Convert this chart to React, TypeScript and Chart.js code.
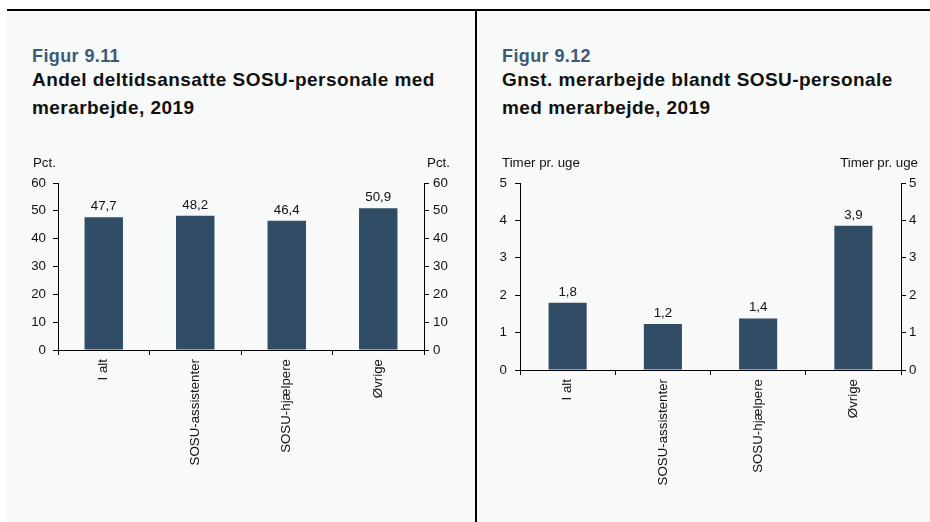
import React, { useEffect, useRef } from 'react';
import { Chart, registerables } from 'chart.js';

Chart.register(...registerables);

const FONT = '"Liberation Sans", Arial, Helvetica, sans-serif';

const categories = ['I alt', 'SOSU-assistenter', 'SOSU-hjælpere', 'Øvrige'];
const shareValues = [47.7, 48.2, 46.4, 50.9];
const hoursValues = [1.8, 1.23, 1.38, 3.86];
const shareTicks = [0, 10, 20, 30, 40, 50, 60];
const hoursTicks = [0, 1, 2, 3, 4, 5];

const fig1Number = 'Figur 9.11';
const fig1Title = ['Andel deltidsansatte SOSU-personale med', 'merarbejde, 2019'];
const fig1Unit = 'Pct.';
const fig2Number = 'Figur 9.12';
const fig2Title = ['Gnst. merarbejde blandt SOSU-personale', 'med merarbejde, 2019'];
const fig2Unit = 'Timer pr. uge';

const BAR_COLOR = '#304d65';
const TEXT = '#111111';
const FS = 13.3;

const barLabelsPlugin = {
  id: 'barLabels',
  afterDatasetsDraw(chart: any, _args: any, opts: any) {
    const ctx = chart.ctx;
    const meta = chart.getDatasetMeta(0);
    const data = chart.data.datasets[0].data as number[];
    ctx.save();
    ctx.font = `${FS}px ${FONT}`;
    ctx.fillStyle = TEXT;
    ctx.textBaseline = 'alphabetic';
    ctx.textAlign = 'center';
    meta.data.forEach((bar: any, i: number) => {
      ctx.fillText(data[i].toFixed(1).replace('.', ','), bar.x, bar.y - 7);
    });
    const area = chart.chartArea;
    ctx.textAlign = 'left';
    ctx.fillText(opts.unit, area.left + opts.unitLeft, opts.unitY);
    ctx.textAlign = 'right';
    ctx.fillText(opts.unit, area.right + opts.unitRight, opts.unitY);
    ctx.restore();
  },
};

type PanelProps = {
  values: number[];
  ticks: number[];
  unit: string;
  width: number;
  height: number;
  leftW: number;
  rightW: number;
  xH: number;
  top: number;
  barPct: number;
  unitLeft: number;
  unitRight: number;
  leftPad: number;
  rightPad: number;
};

function BarChart(p: PanelProps) {
  const ref = useRef<HTMLCanvasElement>(null);
  useEffect(() => {
    if (!ref.current) return;
    const tickFont = { family: FONT, size: FS };
    const axisCommon = (pos: 'left' | 'right', w: number, pad: number) => ({
      type: 'linear' as const,
      position: pos,
      min: p.ticks[0],
      max: p.ticks[p.ticks.length - 1],
      display: true,
      ticks: {
        stepSize: p.ticks[1] - p.ticks[0],
        color: TEXT,
        font: tickFont,
        padding: pad,
      },
      grid: { drawOnChartArea: false, drawTicks: true, tickLength: 5, color: '#000', lineWidth: 1 },
      border: { display: true, color: '#000', width: 1 },
      afterFit: (s: any) => {
        s.width = w;
      },
    });
    const chart = new Chart(ref.current, {
      type: 'bar',
      data: {
        labels: categories,
        datasets: [
          {
            data: p.values,
            backgroundColor: BAR_COLOR,
            borderWidth: 0,
            barPercentage: p.barPct,
            categoryPercentage: 1,
            yAxisID: 'y',
          },
        ],
      },
      options: {
        animation: false,
        responsive: false,
        maintainAspectRatio: false,
        layout: { padding: { top: p.top, left: 0, right: 0, bottom: 0 } },
        plugins: {
          legend: { display: false },
          tooltip: { enabled: false },
          barLabels: { unit: p.unit, unitLeft: p.unitLeft, unitRight: p.unitRight, unitY: 17 },
        } as any,
        scales: {
          x: {
            type: 'category',
            position: 'bottom',
            ticks: {
              color: TEXT,
              font: tickFont,
              minRotation: 90,
              maxRotation: 90,
              autoSkip: false,
              padding: 4,
            },
            grid: { drawOnChartArea: false, drawTicks: true, tickLength: 5, color: '#000', offset: true },
            border: { display: true, color: '#000', width: 1 },
            afterFit: (s: any) => {
              s.height = p.xH;
            },
          },
          y: axisCommon('left', p.leftW, p.leftPad),
          y2: axisCommon('right', p.rightW, p.rightPad),
        } as any,
      },
      plugins: [barLabelsPlugin],
    });
    return () => chart.destroy();
  }, []);
  return (
    <canvas
      ref={ref}
      width={p.width}
      height={p.height}
      style={{ width: p.width, height: p.height, display: 'block' }}
    />
  );
}

const figNumStyle: React.CSSProperties = {
  position: 'absolute',
  fontFamily: FONT,
  fontWeight: 'bold',
  fontSize: 18,
  lineHeight: '20px',
  color: '#3b5a75',
  whiteSpace: 'nowrap',
  letterSpacing: 0.4,
};
const titleStyle: React.CSSProperties = {
  position: 'absolute',
  fontFamily: FONT,
  fontWeight: 'bold',
  fontSize: 19,
  lineHeight: '28px',
  color: '#111',
  whiteSpace: 'nowrap',
  letterSpacing: 0.45,
};

export default function App() {
  return (
    <div
      style={{
        position: 'absolute',
        left: 0,
        top: 0,
        width: 930,
        height: 522,
        background: '#ffffff',
        overflow: 'hidden',
      }}
    >
      <div style={{ position: 'absolute', left: 7, top: 11, width: 469, height: 511, background: '#f8f9f9' }} />
      <div style={{ position: 'absolute', left: 477, top: 11, width: 453, height: 511, background: '#f8f9f9' }} />
      <div style={{ position: 'absolute', left: 7, top: 9, width: 923, height: 2, background: '#000' }} />
      <div style={{ position: 'absolute', left: 475, top: 9, width: 2, height: 513, background: '#000' }} />

      <div style={{ ...figNumStyle, left: 32, top: 46 }}>{fig1Number}</div>
      <div style={{ ...titleStyle, left: 32, top: 66 }}>
        {fig1Title.map((t) => (
          <div key={t}>{t}</div>
        ))}
      </div>
      <div style={{ ...figNumStyle, left: 502, top: 46 }}>{fig2Number}</div>
      <div style={{ ...titleStyle, left: 502, top: 66 }}>
        {fig2Title.map((t) => (
          <div key={t}>{t}</div>
        ))}
      </div>

      <div style={{ position: 'absolute', left: 8, top: 150 }}>
        <BarChart
          values={shareValues}
          ticks={shareTicks}
          unit={fig1Unit}
          width={460}
          height={360}
          leftW={50}
          rightW={44}
          xH={160}
          top={33}
          barPct={0.42}
          unitLeft={-25}
          unitRight={26}
          leftPad={7}
          rightPad={4}
        />
      </div>
      <div style={{ position: 'absolute', left: 477, top: 150 }}>
        <BarChart
          values={hoursValues}
          ticks={hoursTicks}
          unit={fig2Unit}
          width={453}
          height={360}
          leftW={43}
          rightW={29}
          xH={140}
          top={33}
          barPct={0.4}
          unitLeft={-18}
          unitRight={17}
          leftPad={8}
          rightPad={3}
        />
      </div>
    </div>
  );
}
